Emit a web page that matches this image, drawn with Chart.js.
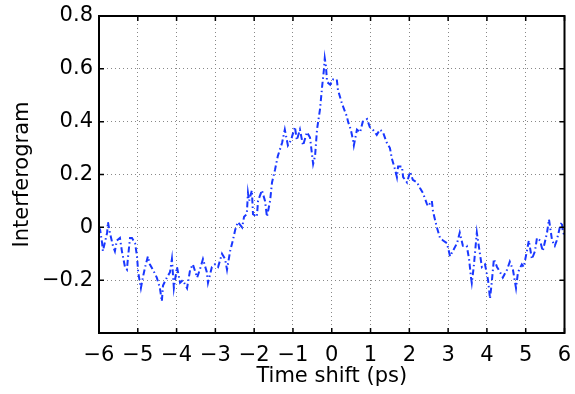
<!DOCTYPE html>
<html>
<head>
<meta charset="utf-8">
<script src="https://cdn.jsdelivr.net/npm/chart.js@4"></script>
<style>
  html, body { margin: 0; padding: 0; background: #fff; overflow: hidden; }
  canvas { display: block; }
</style>
</head>
<body>
<canvas id="chart" width="575" height="394"></canvas>
<script>
const timeShift = [
  -6.00, -5.97, -5.92, -5.90, -5.79, -5.77, -5.72, -5.64, -5.59, -5.54,
  -5.46, -5.41, -5.33, -5.28, -5.25, -5.20, -5.15, -5.07, -5.02, -4.99,
  -4.92, -4.87, -4.81, -4.74, -4.69, -4.61, -4.51, -4.43, -4.38, -4.35,
  -4.25, -4.17, -4.12, -4.07, -3.99, -3.91, -3.84, -3.73, -3.65, -3.58,
  -3.47, -3.40, -3.32, -3.22, -3.19, -3.09, -3.01, -2.93, -2.83, -2.75,
  -2.70, -2.62, -2.55, -2.49, -2.42, -2.31, -2.26, -2.19, -2.16, -2.13,
  -2.06, -2.03, -1.93, -1.90, -1.80, -1.72, -1.67, -1.59, -1.54, -1.46,
  -1.39, -1.28, -1.21, -1.13, -1.05, -0.95, -0.90, -0.82, -0.74, -0.64,
  -0.56, -0.48, -0.43, -0.38, -0.30, -0.25, -0.20, -0.18, -0.15, -0.12,
  -0.04, 0.03, 0.13, 0.16, 0.26, 0.31, 0.39, 0.42, 0.49, 0.55,
  0.57, 0.65, 0.73, 0.80, 0.91, 0.98, 1.06, 1.16, 1.24, 1.32,
  1.42, 1.50, 1.55, 1.63, 1.68, 1.71, 1.81, 1.84, 1.94, 2.02,
  2.09, 2.20, 2.27, 2.35, 2.45, 2.48, 2.58, 2.61, 2.66, 2.71,
  2.79, 2.87, 2.97, 3.05, 3.12, 3.23, 3.30, 3.38, 3.48, 3.54,
  3.59, 3.61, 3.66, 3.74, 3.77, 3.82, 3.87, 3.95, 4.03, 4.08,
  4.13, 4.18, 4.26, 4.34, 4.41, 4.52, 4.59, 4.67, 4.75, 4.80,
  4.90, 4.95, 5.03, 5.08, 5.16, 5.24, 5.29, 5.37, 5.44, 5.55,
  5.60, 5.68, 5.75, 5.80, 5.88, 5.93, 5.96, 6.00
];
const interferogram = [
  0.00, -0.01, -0.06, -0.09, -0.02, 0.02, -0.02, -0.07, -0.09, -0.05,
  -0.04, -0.09, -0.15, -0.16, -0.11, -0.04, -0.04, -0.06, -0.11, -0.17,
  -0.23, -0.19, -0.15, -0.11, -0.14, -0.16, -0.19, -0.23, -0.28, -0.22,
  -0.19, -0.17, -0.12, -0.23, -0.15, -0.21, -0.20, -0.23, -0.16, -0.14,
  -0.19, -0.16, -0.12, -0.17, -0.21, -0.15, -0.14, -0.15, -0.10, -0.12,
  -0.16, -0.09, -0.05, -0.01, 0.02, 0.00, 0.04, 0.05, 0.13, 0.10,
  0.14, 0.05, 0.04, 0.10, 0.14, 0.10, 0.04, 0.10, 0.17, 0.22,
  0.27, 0.32, 0.37, 0.31, 0.33, 0.38, 0.33, 0.37, 0.31, 0.36,
  0.34, 0.24, 0.27, 0.37, 0.45, 0.53, 0.60, 0.64, 0.61, 0.55,
  0.54, 0.56, 0.56, 0.52, 0.47, 0.45, 0.42, 0.40, 0.37, 0.33,
  0.31, 0.37, 0.36, 0.40, 0.41, 0.38, 0.37, 0.35, 0.37, 0.36,
  0.32, 0.30, 0.26, 0.22, 0.19, 0.23, 0.23, 0.19, 0.17, 0.21,
  0.18, 0.17, 0.15, 0.13, 0.09, 0.08, 0.10, 0.06, 0.03, 0.00,
  -0.04, -0.05, -0.06, -0.11, -0.09, -0.06, -0.02, -0.07, -0.07, -0.12,
  -0.19, -0.21, -0.15, -0.02, -0.05, -0.10, -0.15, -0.14, -0.20, -0.27,
  -0.20, -0.12, -0.15, -0.17, -0.19, -0.16, -0.13, -0.16, -0.23, -0.17,
  -0.14, -0.15, -0.09, -0.05, -0.12, -0.09, -0.04, -0.05, -0.09, -0.02,
  0.03, -0.05, -0.07, -0.05, 0.00, 0.02, -0.02, -0.03
];
const xTicks = [-6, -5, -4, -3, -2, -1, 0, 1, 2, 3, 4, 5, 6];
const yTicks = [-0.4, -0.2, 0, 0.2, 0.4, 0.6, 0.8];

const fmt = v => {
  const r = Math.round(v * 10) / 10;
  if (r === 0) return '0';
  return (r < 0 ? '\u2212' : '') + String(Math.abs(r));
};

// matlab-style box + inward tick marks on all four sides
const boxPlugin = {
  id: 'box',
  afterDraw(chart) {
    const { ctx, chartArea: a, scales: { x, y } } = chart;
    ctx.save();
    ctx.strokeStyle = '#000';
    ctx.lineWidth = 1.5;
    ctx.beginPath();
    xTicks.forEach(v => {
      const px = x.getPixelForValue(v);
      ctx.moveTo(px, a.bottom); ctx.lineTo(px, a.bottom - 5);
      ctx.moveTo(px, a.top); ctx.lineTo(px, a.top + 5);
    });
    yTicks.forEach(v => {
      const py = y.getPixelForValue(v);
      ctx.moveTo(a.left, py); ctx.lineTo(a.left + 5, py);
      ctx.moveTo(a.right, py); ctx.lineTo(a.right - 5, py);
    });
    ctx.stroke();
    ctx.lineWidth = 2;
    ctx.strokeRect(a.left, a.top, a.right - a.left, a.bottom - a.top);
    ctx.restore();
  }
};

const font = { family: '"DejaVu Sans", sans-serif', size: 21 };

new Chart(document.getElementById('chart'), {
  type: 'scatter',
  data: {
    datasets: [{
      data: timeShift.map((t, i) => ({ x: t, y: interferogram[i] })),
      showLine: true,
      borderColor: 'rgb(25,55,255)',
      borderWidth: 2,
      borderDash: [6, 3, 1.5, 3],
      pointRadius: 0,
      tension: 0
    }]
  },
  options: {
    responsive: false,
    animation: false,
    devicePixelRatio: 1,
    layout: { padding: { left: 0, right: 10.5, top: 16, bottom: 0 } },
    plugins: { legend: { display: false }, tooltip: { enabled: false } },
    scales: {
      x: {
        type: 'linear',
        min: -6, max: 6,
        afterBuildTicks: s => { s.ticks = xTicks.map(v => ({ value: v })); },
        afterFit: s => { s.height = 61; s.paddingLeft = 0; s.paddingRight = 0; },
        grid: { color: '#888', lineWidth: 1, drawTicks: false },
        border: { display: false, dash: [1, 3] },
        ticks: { color: '#000', font, padding: 10, maxRotation: 0, callback: v => fmt(v) },
        title: { display: true, text: 'Time shift (ps)', color: '#000', font, padding: { top: 0, bottom: 4.4 } }
      },
      y: {
        type: 'linear',
        min: -0.4, max: 0.8,
        afterBuildTicks: s => { s.ticks = yTicks.map(v => ({ value: v })); },
        afterFit: s => { s.width = 99; s.paddingTop = 0; s.paddingBottom = 0; },
        grid: { color: '#888', lineWidth: 1, drawTicks: false },
        border: { display: false, dash: [1, 3] },
        ticks: { color: '#000', font, padding: 6, callback: v => (v < -0.3 ? '' : fmt(v)) },
        title: { display: true, text: 'Interferogram', color: '#000', font, padding: { top: 10.4, bottom: 0 } }
      }
    }
  },
  plugins: [boxPlugin]
});
</script>
</body>
</html>
